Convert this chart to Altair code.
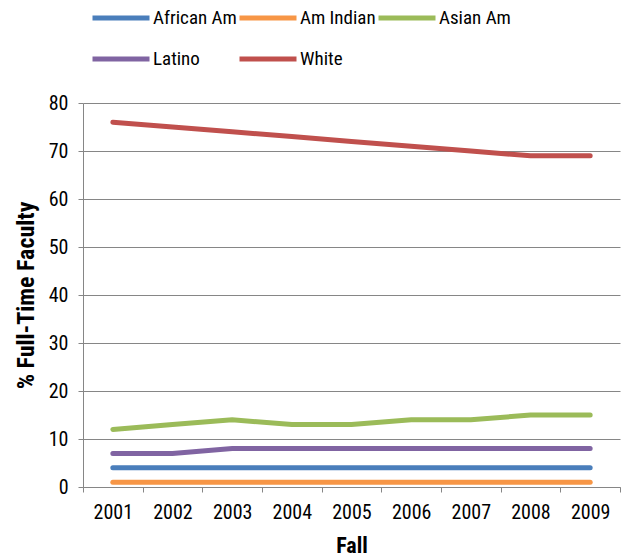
import altair as alt
import pandas as pd

years = ["2001", "2002", "2003", "2004", "2005", "2006", "2007", "2008", "2009"]
african_am = [4, 4, 4, 4, 4, 4, 4, 4, 4]
am_indian = [1, 1, 1, 1, 1, 1, 1, 1, 1]
asian_am = [12, 13, 14, 13, 13, 14, 14, 15, 15]
latino = [7, 7, 8, 8, 8, 8, 8, 8, 8]
white = [76, 75, 74, 73, 72, 71, 70, 69, 69]

groups = ["African Am", "Am Indian", "Asian Am", "Latino", "White"]
colors = ["#4A7EBB", "#F79646", "#9BBB59", "#8064A2", "#C0504D"]
series = [african_am, am_indian, asian_am, latino, white]

rows = []
for g, vals in zip(groups, series):
    for y, v in zip(years, vals):
        rows.append({"Fall": y, "Group": g, "Pct": v})
df = pd.DataFrame(rows)

FONT = "Roboto Condensed, Liberation Sans, sans-serif"
GRAY = "#868686"

chart = alt.Chart(df).mark_line(strokeWidth=5, strokeCap="round").encode(
    x=alt.X("Fall:O", sort=years,
            scale=alt.Scale(paddingInner=0, paddingOuter=0),
            axis=alt.Axis(title="Fall", labelAngle=0, tickBand="extent",
                          grid=False, domainColor=GRAY, tickColor=GRAY,
                          tickSize=5, labelPadding=10, labelFontSize=20,
                          labelFontWeight="normal",
                          labelColor="#000", titleFontSize=22, titleFontWeight="bold",
                          titleColor="#000", titlePadding=13)),
    y=alt.Y("Pct:Q", scale=alt.Scale(domain=[0, 80]),
            axis=alt.Axis(title="% Full-Time Faculty", values=list(range(0, 81, 10)),
                          grid=True, gridColor=GRAY, gridWidth=1,
                          domainColor=GRAY, tickColor=GRAY, tickSize=5,
                          labelPadding=10, labelFontSize=20, labelColor="#000",
                          titleFontSize=24, titleFontWeight="bold", titleColor="#000",
                          titlePadding=10)),
    color=alt.Color("Group:N", sort=groups,
                    scale=alt.Scale(domain=groups, range=colors),
                    legend=alt.Legend(title=None, orient="none", direction="horizontal",
                                      legendX=7, legendY=-116,
                                      columns=3, symbolType="stroke", symbolSize=3249,
                                      symbolStrokeWidth=5, labelFontSize=19,
                                      labelColor="#000", labelOffset=1,
                                      columnPadding=-8, rowPadding=-16, padding=0)),
).properties(
    width=537, height=384,
    padding={"left": 83, "top": 103, "right": 4, "bottom": 71},
    autosize=alt.AutoSizeParams(type="none"),
).configure(
    font=FONT,
).configure_view(
    stroke=None,
)

chart.save("out.html", embed_options={"renderer": "svg", "actions": False})
